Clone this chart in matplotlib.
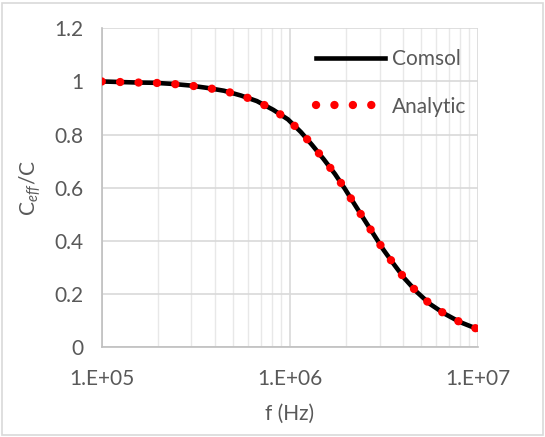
import matplotlib
matplotlib.use('Agg')
import numpy as np
from matplotlib import pyplot as plt
from matplotlib.ticker import FixedLocator, FuncFormatter, LogLocator, NullFormatter
from matplotlib.patches import Rectangle

# frequency (Hz) and normalised effective capacitance
freq = [1.000e5, 1.236e5, 1.535e5, 1.897e5, 2.355e5, 2.924e5, 3.614e5, 4.467e5,
        5.495e5, 6.683e5, 8.166e5, 9.772e5, 1.146e6, 1.315e6, 1.517e6, 1.738e6,
        1.963e6, 2.208e6, 2.477e6, 2.799e6, 3.148e6, 3.589e6, 4.074e6, 4.721e6,
        5.559e6, 6.622e6, 8.017e6, 1.000e7]
comsol = [1.000, 0.998, 0.996, 0.995, 0.991, 0.985, 0.976, 0.965,
          0.947, 0.926, 0.893, 0.857, 0.809, 0.760, 0.706, 0.651,
          0.595, 0.537, 0.481, 0.422, 0.365, 0.309, 0.257, 0.207,
          0.161, 0.125, 0.093, 0.066]
analytic = comsol[:]
yticks = [0, 0.2, 0.4, 0.6, 0.8, 1.0, 1.2]
xticks = [1e5, 1e6, 1e7]

txt = '#595959'
fs = 15
plt.rcParams['font.family'] = ['Lato', 'DejaVu Sans']
plt.rcParams['mathtext.fontset'] = 'custom'
plt.rcParams['mathtext.rm'] = 'Lato'
plt.rcParams['mathtext.it'] = 'Lato:italic'

fig = plt.figure(figsize=(5.45, 4.37), dpi=100)
ax = fig.add_axes([0.1866, 0.2066, 0.6904, 0.7284])

ax.plot(freq, comsol, color='black', lw=3.3, label='Comsol', zorder=3)
ax.plot(freq, analytic, color='red', lw=6, linestyle=(0, (0.01, 2.2)),
        dash_capstyle='round', label='Analytic', zorder=4)

ax.set_xscale('log')
ax.set_xlim(1e5, 1e7)
ax.set_ylim(0, 1.2)
ax.xaxis.set_major_locator(FixedLocator(xticks))
ax.xaxis.set_major_formatter(FuncFormatter(lambda v, p: '1.E+%02d' % round(np.log10(v))))
ax.xaxis.set_minor_locator(LogLocator(base=10, subs=np.arange(2, 10)))
ax.xaxis.set_minor_formatter(NullFormatter())
ax.yaxis.set_major_locator(FixedLocator(yticks))
ax.yaxis.set_major_formatter(FuncFormatter(lambda v, p: '%g' % v))

ax.grid(True, which='major', color='#d9d9d9', lw=1.2)
ax.grid(True, which='minor', axis='x', color='#e8e8e8', lw=1.0)
ax.set_axisbelow(True)
for s in ['top', 'right']:
    ax.spines[s].set_visible(False)
for s in ['left', 'bottom']:
    ax.spines[s].set_color('#bfbfbf')
    ax.spines[s].set_linewidth(1.2)

ax.tick_params(which='both', length=0, labelsize=fs, colors=txt)
ax.tick_params(axis='x', pad=16)
ax.tick_params(axis='y', pad=13)

ax.set_xlabel('f (Hz)', fontsize=fs, color=txt, labelpad=11)
ax.set_ylabel(r'C$_{\mathit{eff}}$/C', fontsize=fs, color=txt, labelpad=8)

leg = ax.legend(loc='upper left', bbox_to_anchor=(0.548, 0.96), borderaxespad=0,
                frameon=False, fontsize=fs, handlelength=3.3, handletextpad=0.35,
                labelspacing=1.3)
for t in leg.get_texts():
    t.set_color(txt)

fig.patches.append(Rectangle((0.004, 0.004), 0.992, 0.99, transform=fig.transFigure,
                             fill=False, edgecolor='#d9d9d9', lw=1.2))

plt.savefig('out.png', dpi=100)
